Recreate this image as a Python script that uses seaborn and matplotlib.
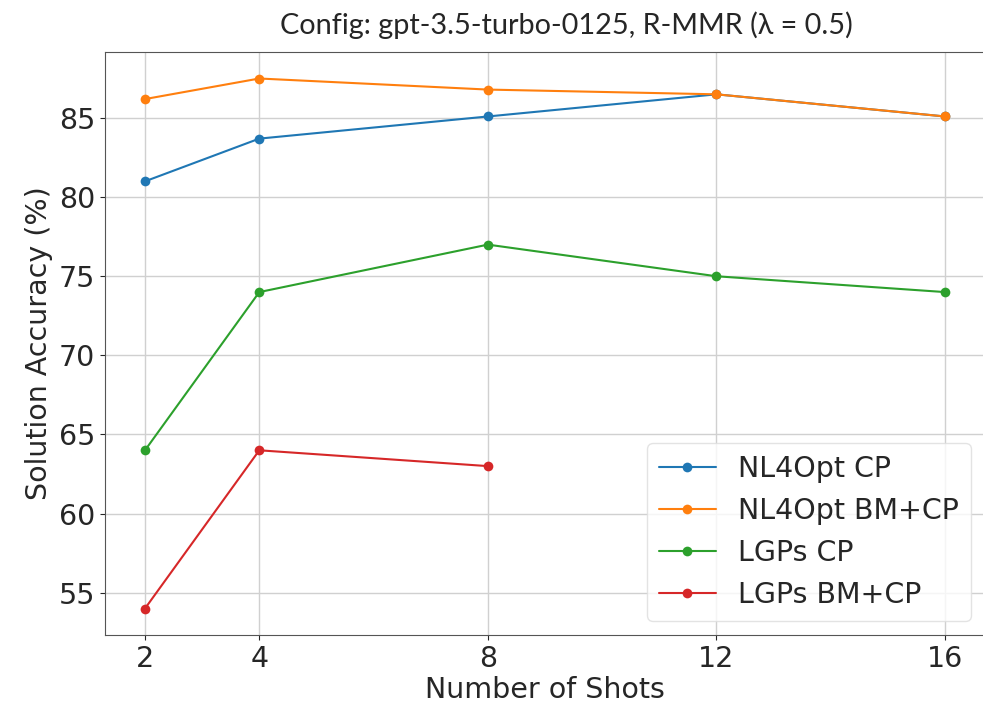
import pandas as pd
import seaborn as sns
import matplotlib.pyplot as plt

shots = [2, 4, 8, 12, 16]
nl4opt_cp = [81.0, 83.7, 85.1, 86.5, 85.1]
nl4opt_bm_cp = [86.2, 87.5, 86.8, 86.5, 85.1]
lgps_cp = [64.0, 74.0, 77.0, 75.0, 74.0]
lgps_bm_cp = [54.0, 64.0, 63.0]

series = {
    'NL4Opt CP': nl4opt_cp,
    'NL4Opt BM+CP': nl4opt_bm_cp,
    'LGPs CP': lgps_cp,
    'LGPs BM+CP': lgps_bm_cp,
}

rows = []
for nome, valores in series.items():
    for s, v in zip(shots, valores):
        rows.append({'shots': s, 'acc': v, 'config': nome})
df = pd.DataFrame(rows)

sns.set_style('ticks')
plt.rcParams['font.family'] = ['DejaVu Sans']
plt.rcParams['font.sans-serif'] = ['DejaVu Sans']

fs = 20.5

fig = plt.figure(figsize=(9.83, 7.03), dpi=100)
ax = fig.add_axes([105 / 983, 1 - 635 / 703, 880 / 983, 583 / 703])

sns.lineplot(data=df, x='shots', y='acc', hue='config', palette='tab10',
             marker='o', markersize=7, markeredgewidth=0, linewidth=1.5, ax=ax)

ax.grid(True, color='#d0d0d0', linewidth=1)
ax.set_xticks(shots)
ax.set_xticklabels([str(s) for s in shots], family='DejaVu Sans', fontsize=fs)
for t in ax.get_yticklabels():
    t.set_family('DejaVu Sans')
ax.tick_params(axis='y', labelsize=fs)
ax.set_xlabel('Number of Shots', family='DejaVu Sans', fontsize=fs, labelpad=2)
ax.set_ylabel('Solution Accuracy (%)', family='DejaVu Sans', fontsize=fs)
ax.set_title('Config: gpt-3.5-turbo-0125, R-MMR (λ = 0.5)', family='Lato',
             fontsize=20.8, pad=13, x=0.524)
for sp in ax.spines.values():
    sp.set_color('#555555')

leg = ax.legend(loc='lower right', prop={'family': 'DejaVu Sans', 'size': fs},
                frameon=True)
leg.get_frame().set_edgecolor('#dddddd')

fig.savefig('out.png', dpi=100)
